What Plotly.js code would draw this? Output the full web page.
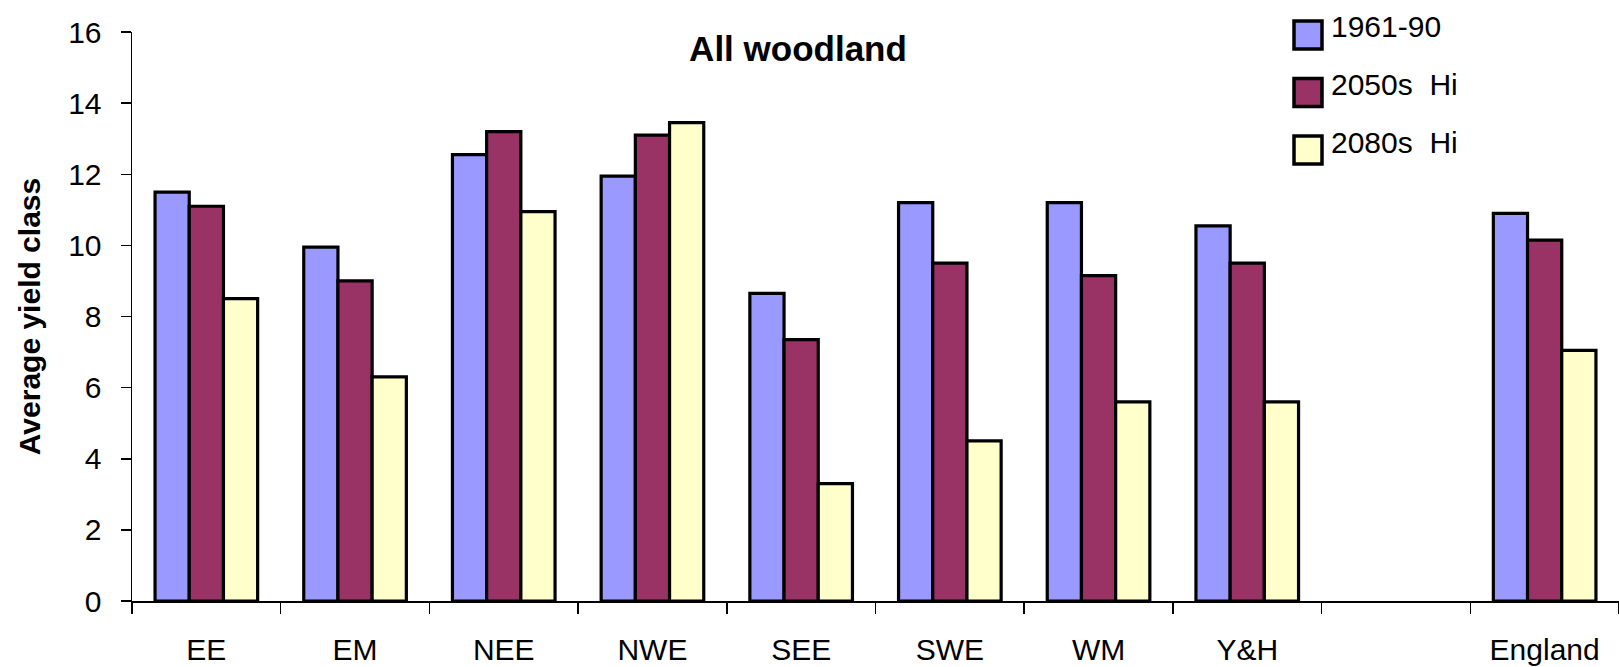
<!DOCTYPE html>
<html>
<head>
<meta charset="utf-8">
<script src="https://cdn.plot.ly/plotly-3.0.1.min.js"></script>
<style>html,body{margin:0;padding:0;background:#fff;}#chart{width:1619px;height:667px;}</style>
</head>
<body>
<div id="chart"></div>
<script>
const categories = ["EE", "EM", "NEE", "NWE", "SEE", "SWE", "WM", "Y&H", " ", "England"];
const seriesNames = ["1961-90", "2050s  Hi", "2080s  Hi"];
const seriesColors = ["#9999FF", "#993366", "#FFFFCC"];
const baseline = [11.5, 9.95, 12.55, 11.95, 8.65, 11.2, 11.2, 10.55, null, 10.9];
const hi2050s = [11.1, 9.0, 13.2, 13.1, 7.35, 9.5, 9.15, 9.5, null, 10.15];
const hi2080s = [8.5, 6.3, 10.95, 13.45, 3.3, 4.5, 5.6, 5.6, null, 7.05];
const yTicks = [0, 2, 4, 6, 8, 10, 12, 14, 16];

const font = "Liberation Sans, Arial, sans-serif";
const W = 1619, H = 667;
const M = {l: 132, r: 0, t: 32, b: 66};
const pw = W - M.l - M.r, ph = H - M.t - M.b;
const px = x => (x - M.l) / pw;          // pixel -> paper x
const py = y => (H - M.b - y) / ph;      // pixel -> paper y

const values = [baseline, hi2050s, hi2080s];
const data = values.map((v, i) => ({
  type: "bar", name: seriesNames[i], x: categories, y: v,
  marker: {color: seriesColors[i], line: {color: "#000", width: 3.2}},
  showlegend: false
}));

// custom legend (large boxes as in the reference)
const shapes = [], annotations = [];
seriesNames.forEach((n, i) => {
  const cy = 35 + i * 57.5;
  shapes.push({type: "rect", xref: "paper", yref: "paper",
    x0: px(1294), x1: px(1322), y0: py(cy + 14), y1: py(cy - 14),
    fillcolor: seriesColors[i], line: {color: "#000", width: 3.5}});
  annotations.push({xref: "paper", yref: "paper", x: px(1329), y: py(cy - 8),
    xanchor: "left", yanchor: "middle", showarrow: false, text: n,
    font: {family: font, size: 30, color: "#000"}});
});

const layout = {
  width: W, height: H,
  margin: M,
  paper_bgcolor: "#fff", plot_bgcolor: "#fff",
  font: {family: font, size: 30, color: "#000"},
  title: {text: "<b>All woodland</b>", x: 798 / W, xref: "container", xanchor: "center",
          y: 1 - 49 / H, yref: "container", yanchor: "middle",
          font: {family: font, size: 35, color: "#000"}},
  barmode: "group", bargap: 0.31, bargroupgap: 0,
  showlegend: false,
  shapes: shapes, annotations: annotations,
  xaxis: {
    type: "category", showline: true, linecolor: "#000", linewidth: 1.5,
    ticks: "outside", tickson: "boundaries", ticklen: 11, tickcolor: "#000", tickwidth: 1.5,
    tickfont: {family: font, size: 30, color: "#000"}, showgrid: false, zeroline: false,
    ticklabelstandoff: 21,
    range: [-0.5, 9.5]
  },
  yaxis: {
    range: [0, 16], tickvals: yTicks, ticktext: yTicks.map(String),
    showline: true, linecolor: "#000", linewidth: 1.5,
    ticks: "outside", ticklen: 10, tickcolor: "#000", tickwidth: 1.5,
    tickfont: {family: font, size: 30, color: "#000"}, showgrid: false, zeroline: false,
    ticklabelstandoff: 13,
    title: {text: "<b>Average yield class</b>", standoff: 18, font: {family: font, size: 30, color: "#000"}}
  }
};
Plotly.newPlot("chart", data, layout, {displayModeBar: false, staticPlot: true});
</script>
</body>
</html>
